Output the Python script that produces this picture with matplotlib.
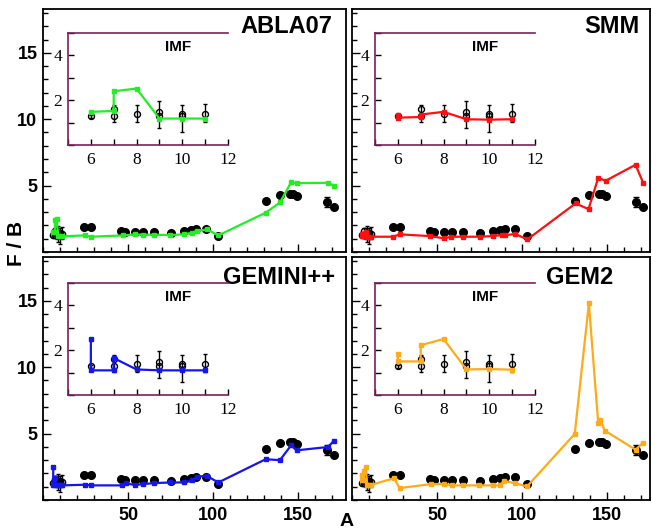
import matplotlib
matplotlib.use('Agg')
import matplotlib.pyplot as plt
from matplotlib.ticker import MultipleLocator, FixedLocator

plt.rcParams['font.family'] = ['Liberation Sans', 'DejaVu Sans']

# ---------------- data ----------------
exp_A = [24, 28, 46, 48, 54, 58.5, 65, 75, 83, 87, 90, 96, 103,
         131, 139, 145, 147, 149, 167, 171]
exp_fb = [1.9, 1.85, 1.57, 1.53, 1.47, 1.52, 1.47, 1.42, 1.57, 1.63, 1.75, 1.72, 1.22,
          3.82, 4.28, 4.38, 4.35, 4.2, 3.76, 3.38]
exp_err = [0, 0, 0, 0, 0, 0, 0, 0, 0, 0, 0, 0, 0,
           0, 0, 0, 0, 0, 0.35, 0]

imf_A = [6, 7, 8, 9, 10, 11]
imf_fb = [1.28, 1.30, 1.39, 1.28, 1.30, 1.39]
imf_lo = [0.08, 0.28, 0.38, 0.52, 0.70, 0.38]
imf_hi = [0.08, 0.47, 0.38, 0.67, 0.47, 0.46]
imf2_A = [7, 9, 10]
imf2_fb = [1.60, 1.46, 1.40]

abla_A = [6, 7, 7, 8, 9, 10, 11, 24.7, 28.2, 47.2, 54, 59, 65.2, 74.6, 83, 87.4,
          90.4, 96.4, 103, 130.8, 139.2, 145.7, 149, 167.3, 171.2]
abla_fb = [1.48, 1.52, 2.40, 2.52, 1.18, 1.18, 1.18, 1.25, 1.15, 1.25, 1.33, 1.3,
           1.3, 1.28, 1.33, 1.45, 1.6, 1.7, 1.25, 2.96, 3.73, 5.24, 5.19, 5.21, 4.99]

smm_A = [6, 6, 7, 7, 8, 9, 10, 11, 24.1, 28, 45.6, 54, 58.4, 65.2, 75, 82.8,
         87.8, 89.7, 96, 103, 131.3, 138.9, 144.6, 148.9, 166.5, 171]
smm_fb = [1.33, 1.22, 1.25, 1.36, 1.48, 1.15, 1.13, 1.15, 1.15, 1.33, 1.2, 1.03,
          1.15, 1.15, 1.15, 1.2, 1.27, 1.27, 1.35, 0.95, 3.66, 3.23, 5.59, 5.36,
          6.57, 5.21]

gemini_A = [6, 6, 7, 7, 8, 9, 10, 11, 24.7, 28.3, 46.6, 48.5, 54, 59, 65.2, 74.6,
            83, 87.4, 90.4, 96.3, 103, 130.8, 139.2, 145.7, 149, 167.3, 171.2]
gemini_fb = [2.5, 1.1, 1.1, 1.65, 1.14, 1.1, 1.1, 1.1, 1.15, 1.1, 1.1, 1.27, 1.12,
             1.2, 1.27, 1.32, 1.32, 1.47, 1.76, 1.81, 1.32, 3.07, 3.0, 4.11, 3.74,
             3.99, 4.48]

gem2_A = [6, 6, 7, 7, 8, 9, 10, 11, 24.7, 28, 46.6, 54, 59, 64.9, 74.6, 82.8,
          86.8, 89.1, 95.6, 102.8, 130.8, 139.1, 144.6, 145.9, 148.5, 166.5, 170.6]
gem2_fb = [1.85, 1.5, 1.5, 2.22, 2.5, 1.14, 1.16, 1.13, 1.64, 0.9, 1.2, 1.2, 1.1,
           1.1, 1.1, 1.1, 1.1, 1.44, 1.27, 1.02, 4.98, 14.8, 5.77, 6.0, 5.22, 3.79,
           4.28]

names = ['ABLA07', 'SMM', 'GEMINI++', 'GEM2']
colors = ['#22ee22', '#ff1010', '#1515ee', '#ffaa18']
models_A = [abla_A, smm_A, gemini_A, gem2_A]
models_fb = [abla_fb, smm_fb, gemini_fb, gem2_fb]

x_major = [50, 100, 150]
y_major = [5, 10, 15]
inset_xticklabels = [6, 8, 10, 12]
inset_yticklabels = [2, 4]

# ---------------- layout (pixels) ----------------
W, H = 652, 528
fig = plt.figure(figsize=(W / 100, H / 100), dpi=100)

def pix_axes(x0, y0, x1, y1):
    return fig.add_axes([x0 / W, 1 - y1 / H, (x1 - x0) / W, (y1 - y0) / H])

panel_boxes = [(43, 9, 346, 252), (352, 9, 650, 252),
               (43, 257, 346, 500), (352, 257, 650, 500)]
inset_boxes = [(68, 33, 228, 145), (375, 33, 535, 145),
               (68, 283, 228, 395), (375, 283, 535, 395)]
xlims = [(0, 178), (0, 175), (0, 178), (0, 175)]
title_pos = [(0.955, 0.975), (0.966, 0.975), (0.964, 0.963), (0.876, 0.963)]
purple = '#7a1f5c'

for i in range(4):
    ax = pix_axes(*panel_boxes[i])
    col = colors[i]
    mA, mF = models_A[i], models_fb[i]

    # experimental data
    ax.errorbar(exp_A, exp_fb, yerr=exp_err, fmt='o', color='black', ms=5.5,
                capsize=2, elinewidth=1, zorder=3)
    ax.errorbar(imf_A, imf_fb, yerr=[imf_lo, imf_hi], fmt='o', mfc='none',
                mec='black', ecolor='black', ms=4.5, capsize=1.5, elinewidth=1,
                zorder=3)
    ax.plot(imf2_A, imf2_fb, 'o', mfc='none', mec='black', ms=4.5, zorder=3)
    # model
    ax.plot(mA, mF, '-s', color=col, lw=1.6, ms=2.8, zorder=4)

    ax.set_xlim(*xlims[i])
    ax.set_ylim(0, 18.3)
    ax.xaxis.set_major_locator(FixedLocator(x_major))
    ax.xaxis.set_minor_locator(MultipleLocator(10))
    ax.yaxis.set_major_locator(FixedLocator(y_major))
    ax.yaxis.set_minor_locator(MultipleLocator(1))
    ax.tick_params(which='both', direction='in', top=False, right=False,
                   width=1, color='black')
    ax.tick_params(which='major', length=6)
    ax.tick_params(which='minor', length=3.5)
    ax.tick_params(axis='y', pad=4)
    ax.tick_params(axis='x', pad=5)
    for s in ax.spines.values():
        s.set_linewidth(1.3)

    if i in (0, 2):
        ax.set_yticklabels([str(v) for v in y_major], fontsize=13, fontweight='bold')
    else:
        ax.set_yticklabels([])
    if i in (2, 3):
        ax.set_xticklabels([str(v) for v in x_major], fontsize=13, fontweight='bold')
    else:
        ax.set_xticklabels([])

    tx, ty = title_pos[i]
    ax.text(tx, ty, names[i], transform=ax.transAxes, ha='right', va='top',
            fontsize=17, fontweight='bold')

    # inset
    ib = inset_boxes[i]
    ins = pix_axes(*ib)
    ins.errorbar(imf_A, imf_fb, yerr=[imf_lo, imf_hi], fmt='o', mfc='none',
                 mec='black', ecolor='black', ms=4.3, capsize=1.5, elinewidth=1,
                 zorder=3)
    ins.plot(imf2_A, imf2_fb, 'o', mfc='none', mec='black', ms=4.3, zorder=3)
    nlight = sum(1 for a in mA if a <= 11)
    ins.plot(mA[:nlight], mF[:nlight], '-s', color=col, lw=1.6, ms=3, zorder=4)
    ins.set_xlim(5, 12)
    ins.set_ylim(0, 5)
    ins.xaxis.set_major_locator(FixedLocator(inset_xticklabels))
    ins.xaxis.set_minor_locator(MultipleLocator(1))
    ins.yaxis.set_major_locator(FixedLocator(inset_yticklabels))
    ins.yaxis.set_minor_locator(MultipleLocator(1))
    ins.tick_params(which='both', direction='in', top=False, right=False,
                    width=1, color='black')
    ins.tick_params(which='major', length=4)
    ins.tick_params(which='minor', length=4)
    ins.set_xticklabels([str(v) for v in inset_xticklabels],
                        fontfamily='Liberation Serif', fontsize=12.5)
    ins.set_yticklabels([str(v) for v in inset_yticklabels],
                        fontfamily='Liberation Serif', fontsize=12.5)
    ins.tick_params(axis='x', pad=5)
    ins.tick_params(axis='y', pad=4)
    for side in ('left', 'top', 'bottom'):
        ins.spines[side].set_color(purple)
        ins.spines[side].set_linewidth(1.2)
    ins.spines['right'].set_visible(False)
    ins.text(0.69, 0.875, 'IMF', transform=ins.transAxes, ha='center',
             va='center', fontsize=11, fontweight='bold')

fig.text(17 / W, 1 - 243 / H, 'F / B', rotation=90, ha='center', va='center',
         fontsize=15, fontweight='bold')
fig.text(347 / W, 1 - 521 / H, 'A', ha='center', va='center',
         fontsize=14, fontweight='bold')

fig.savefig('out.png', dpi=100)
